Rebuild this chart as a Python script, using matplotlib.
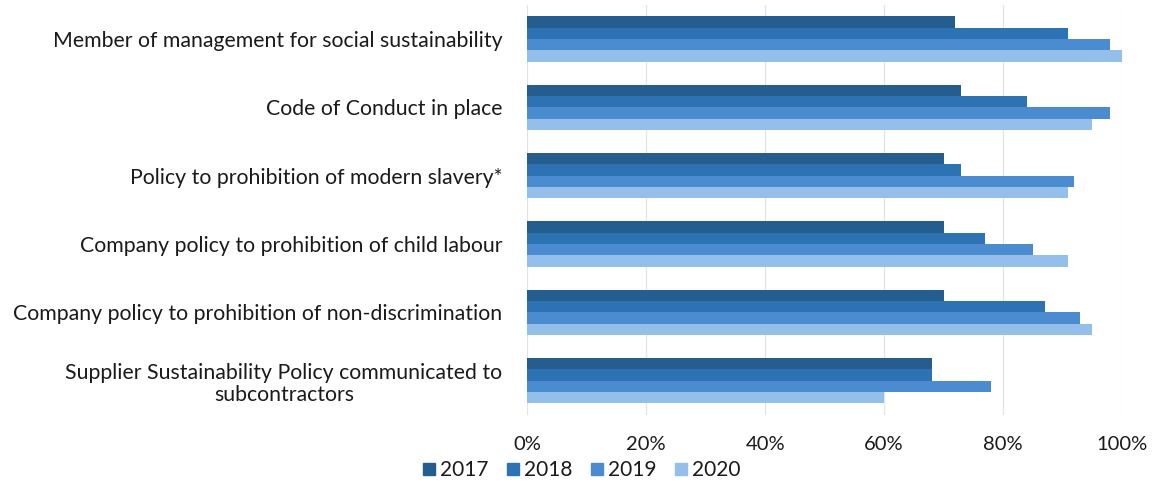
import matplotlib
matplotlib.use("Agg")
import matplotlib.pyplot as plt
import numpy as np
from matplotlib.patches import Patch

plt.rcParams['font.family'] = ['Lato', 'DejaVu Sans']

# Dati
categorie = [
    "Member of management for social sustainability",
    "Code of Conduct in place",
    "Policy to prohibition of modern slavery*",
    "Company policy to prohibition of child labour",
    "Company policy to prohibition of non-discrimination",
    "Supplier Sustainability Policy communicated to\nsubcontractors",
]
anni = ["2017", "2018", "2019", "2020"]
v2017 = [0.72, 0.73, 0.70, 0.70, 0.70, 0.68]
v2018 = [0.91, 0.84, 0.73, 0.77, 0.87, 0.68]
v2019 = [0.98, 0.98, 0.92, 0.85, 0.93, 0.78]
v2020 = [1.00, 0.95, 0.91, 0.91, 0.95, 0.60]
colori = ["#255e8e", "#2d72b2", "#4b8bcf", "#93bfea"]

serie = [v2017, v2018, v2019, v2020]

fig = plt.figure(figsize=(11.59, 4.83), dpi=100)
ax = fig.add_axes([0.455, 0.141, 0.513, 0.849])

y = np.arange(len(categorie))
h = 0.165
for i, (vals, col) in enumerate(zip(serie, colori)):
    ax.barh(y - 1.5 * h + i * h, vals, height=h, color=col, label=anni[i], zorder=2)

ax.set_xlim(0, 1.0)
ax.set_ylim(5.5, -0.5)
ax.set_xticks(np.arange(0, 1.01, 0.2))
ax.set_xticklabels([f"{int(round(t * 100))}%" for t in np.arange(0, 1.01, 0.2)], fontsize=14.5, color="#1a1a1a")
ax.set_yticks(y)
ax.set_yticklabels(categorie, fontsize=15.3, color="#1a1a1a", linespacing=1.15)
ax.tick_params(axis="both", length=0)
ax.tick_params(axis="x", pad=15)
ax.tick_params(axis="y", pad=18)
for lab in ax.get_yticklabels():
    lab.set_horizontalalignment("right")
    lab.set_multialignment("center")
ax.grid(axis="x", color="#e3e3e3", linewidth=0.9, zorder=0)
for s in ax.spines.values():
    s.set_visible(False)

handles = [Patch(color=c, label=a) for a, c in zip(anni, colori)]
fig.legend(handles=handles, loc="center", bbox_to_anchor=(0.502, 0.026), ncol=4, frameon=False,
           fontsize=15, handlelength=0.55, handleheight=0.55, handletextpad=0.25, columnspacing=0.9,
           labelcolor="#1a1a1a", borderpad=0.1)

fig.savefig("out.png", dpi=100)
